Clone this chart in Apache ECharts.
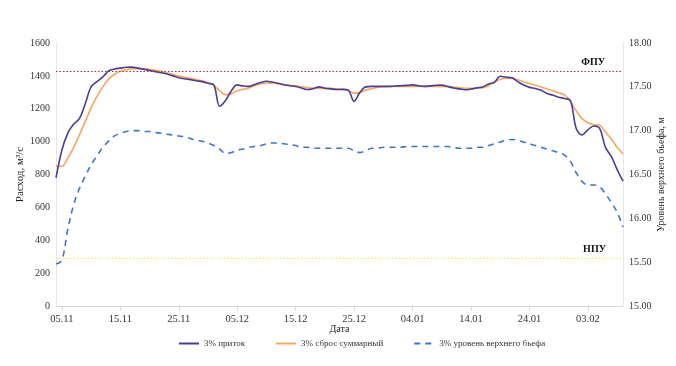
<!DOCTYPE html>
<html><head><meta charset="utf-8">
<script src="https://cdn.jsdelivr.net/npm/echarts@6/dist/echarts.min.js"></script>
<style>html,body{margin:0;padding:0;background:#fff}#c{width:676px;height:366px}</style>
</head><body><div id="c"></div>
<script>
// Daily dates 04.11 .. 09.02
const categories = (function(){
  const out=[]; const d=new Date(2023,10,4);
  for(let i=0;i<98;i++){const dd=String(d.getDate()).padStart(2,'0');const mm=String(d.getMonth()+1).padStart(2,'0');out.push(dd+'.'+mm);d.setDate(d.getDate()+1);}
  return out;
})();
const inflow = [779,948,1050,1105,1140,1230,1333,1365,1393,1430,1442,1447,1452,1453,1447,1440,1433,1426,1419,1411,
1400,1389,1382,1377,1370,1365,1355,1345,1215,1250,1310,1345,1338,1336,1348,1360,1367,1363,1355,1346,
1340,1335,1326,1317,1322,1333,1325,1321,1317,1318,1313,1245,1300,1333,1336,1336,1336,1336,1338,1340,
1342,1345,1340,1336,1339,1343,1344,1336,1326,1321,1316,1320,1327,1333,1350,1360,1398,1392,1388,1365,
1344,1330,1323,1312,1293,1282,1270,1262,1250,1080,1040,1072,1095,1080,965,910,830,759];
const outflow = [850,850,898,964,1040,1122,1205,1275,1333,1380,1410,1428,1437,1443,1444,1444,1440,1434,1427,1417,
1408,1400,1391,1384,1377,1370,1358,1342,1310,1285,1292,1310,1318,1327,1340,1352,1355,1357,1352,1347,
1343,1339,1334,1329,1325,1324,1324,1324,1322,1318,1312,1295,1298,1314,1322,1330,1334,1335,1336,1336,
1336,1336,1336,1336,1336,1336,1336,1334,1332,1328,1325,1324,1325,1328,1340,1365,1378,1387,1385,1376,
1364,1354,1343,1333,1320,1309,1297,1284,1245,1187,1140,1115,1103,1100,1058,1015,965,925];
const level = [15.48,15.52,15.87,16.15,16.34,16.48,16.61,16.71,16.81,16.88,16.94,16.97,16.99,17.00,17.00,16.99,16.99,16.98,16.97,16.96,
16.95,16.94,16.93,16.91,16.89,16.88,16.86,16.83,16.79,16.74,16.75,16.78,16.79,16.81,16.82,16.83,16.85,16.86,16.86,16.85,
16.84,16.83,16.81,16.81,16.80,16.80,16.80,16.80,16.80,16.80,16.80,16.77,16.75,16.77,16.80,16.80,16.81,16.81,16.81,16.81,
16.82,16.82,16.82,16.82,16.82,16.82,16.82,16.82,16.81,16.80,16.80,16.80,16.81,16.81,16.83,16.85,16.87,16.89,16.90,16.89,
16.87,16.85,16.83,16.81,16.79,16.77,16.75,16.72,16.65,16.52,16.42,16.38,16.38,16.36,16.28,16.18,16.07,15.90];
const FPU = 17.68;
const NPU = 15.54;
const seriesNames = ['3% приток','3% сброс суммарный','3% уровень верхнего бьефа'];

const font = 'Liberation Serif';
const chart = echarts.init(document.getElementById('c'));
const showIdx = (i)=> (i-1)%10===0;
chart.setOption({
  animation:false,
  textStyle:{fontFamily:font},
  grid:{left:56,right:53,top:43,bottom:60,containLabel:false,outerBoundsMode:'none'},
  legend:{
    data:seriesNames, bottom:13, left:173, itemWidth:20, itemHeight:8, itemGap:30,
    itemStyle:{opacity:0},
    textStyle:{fontFamily:font,fontSize:9,color:'#333'}
  },
  xAxis:{
    type:'category', data:categories, boundaryGap:false,
    name:'Дата', nameLocation:'middle', nameGap:18, nameMoveOverlap:false,
    nameTextStyle:{fontFamily:font,fontSize:10,color:'#222'},
    axisLine:{lineStyle:{color:'#d9d9d9'}},
    axisTick:{show:true, interval:(i)=>showIdx(i), lineStyle:{color:'#d9d9d9'}},
    axisLabel:{interval:(i)=>showIdx(i), fontFamily:font, fontSize:10.5, color:'#333', margin:8}
  },
  yAxis:[{
    type:'value', min:0, max:1600, interval:200,
    name:'Расход, м³/с', nameLocation:'middle', nameGap:30, nameRotate:90, nameMoveOverlap:false,
    nameTextStyle:{fontFamily:font,fontSize:11,color:'#222'},
    axisLine:{show:true,lineStyle:{color:'#e6e6e6'}},
    axisTick:{show:false}, splitLine:{show:false},
    axisLabel:{fontFamily:font,fontSize:10,color:'#333',margin:6,formatter:(v)=>String(v)}
  },{
    type:'value', min:15, max:18, interval:0.5, position:'right',
    name:'Уровень верхнего бьефа, м', nameLocation:'middle', nameGap:33, nameRotate:90, nameMoveOverlap:false,
    nameTextStyle:{fontFamily:font,fontSize:10,color:'#222'},
    axisLine:{show:true,lineStyle:{color:'#e6e6e6'}},
    axisTick:{show:false}, splitLine:{show:false},
    axisLabel:{fontFamily:font,fontSize:10,color:'#333',margin:6,formatter:(v)=>v.toFixed(2)}
  }],
  series:[{
    name:seriesNames[0], type:'line', data:inflow, yAxisIndex:0, smooth:0.35, symbol:'none',
    lineStyle:{color:'#4a3d94',width:1.6}, itemStyle:{color:'#4a3d94'}, z:4
  },{
    name:seriesNames[1], type:'line', data:outflow, yAxisIndex:0, smooth:0.35, symbol:'none',
    lineStyle:{color:'#f6a660',width:1.6}, itemStyle:{color:'#f6a660'}, z:3
  },{
    name:seriesNames[2], type:'line', data:level, yAxisIndex:1, smooth:0.35, symbol:'none',
    lineStyle:{color:'#3f73cc',width:1.6,type:[6,5]}, itemStyle:{color:'#3f73cc'}, z:2,
    markLine:{
      silent:true, symbol:'none', animation:false,
      data:[
        {yAxis:FPU, lineStyle:{color:'#b02a3a',type:[1.5,2],width:1.2},
          label:{show:true,formatter:'ФПУ',position:'insideEndTop',fontFamily:font,fontWeight:'bold',fontSize:10,color:'#111',distance:[18,4]}},
        {yAxis:NPU, lineStyle:{color:'#f0e640',type:[1.5,2],width:1.2},
          label:{show:true,formatter:'НПУ',position:'insideEndTop',fontFamily:font,fontWeight:'bold',fontSize:10,color:'#111',distance:[17,4]}}
      ]
    }
  }]
});
</script></body></html>
